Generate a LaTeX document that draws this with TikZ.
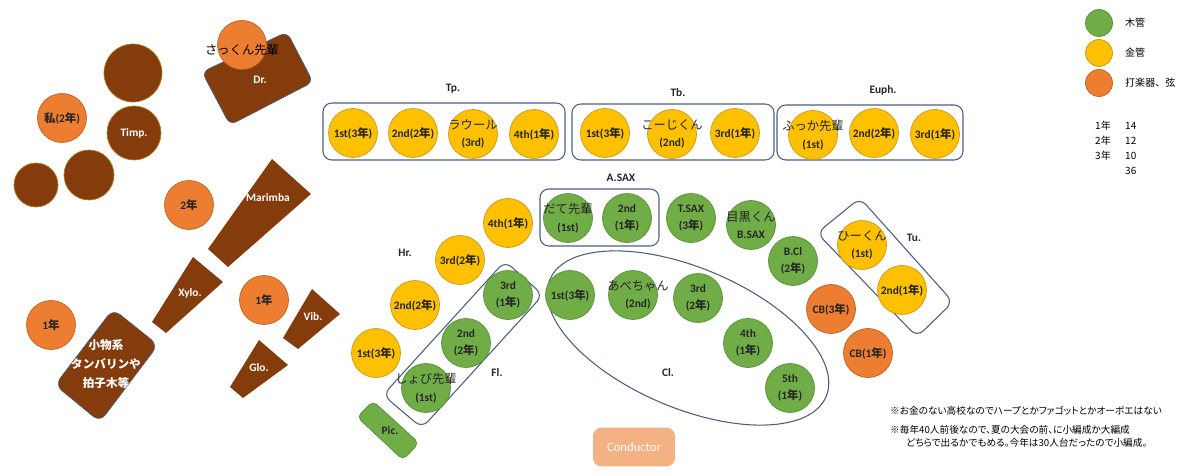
\documentclass[tikz,border=0pt]{standalone}
\usepackage{fontspec}
\setmainfont{Carlito}
\newfontfamily\jp{Noto Sans CJK JP}
\newfontfamily\jpnote{Noto Sans CJK JP}[RawFeature=+palt]
\newcommand\J[1]{{\jp #1}}
\newcommand\who[1]{{\mdseries\fontsize{7}{10}\selectfont\jp #1}}
\definecolor{wwgreen}{HTML}{70AD47}
\definecolor{wwedge}{HTML}{5A8E38}
\definecolor{bryellow}{HTML}{FFC000}
\definecolor{bredge}{HTML}{C99A1A}
\definecolor{pcorange}{HTML}{ED7D31}
\definecolor{pcedge}{HTML}{B9612A}
\definecolor{instbrown}{HTML}{843C0C}
\definecolor{drumedge}{HTML}{B07A20}
\definecolor{partline}{HTML}{4A5D7E}
\definecolor{condcol}{HTML}{F4B183}
\begin{document}
\begin{tikzpicture}[x=0.02cm,y=-0.02cm,
  seat/.style={circle,minimum size=0.98cm,inner sep=0pt,align=center,text=black!85,
    font=\fontsize{6.5}{10}\selectfont\bfseries},
  ww/.style={seat,fill=wwgreen,draw=wwedge},
  br/.style={seat,fill=bryellow,draw=bredge},
  pc/.style={seat,fill=pcorange,draw=pcedge},
  seattext/.style={inner sep=0pt,align=center,text=black!85,font=\fontsize{6.5}{10}\selectfont\bfseries},
  drum/.style={circle,inner sep=0pt,fill=instbrown,draw=drumedge,text=white,
    font=\fontsize{6.5}{8}\selectfont\bfseries},
  inst/.style={fill=instbrown},
  instlab/.style={text=white,font=\fontsize{6.5}{8}\selectfont\bfseries,align=center},
  part/.style={draw=partline,line width=0.6pt,rounded corners=5pt},
  head/.style={text=black!85,font=\fontsize{6.5}{8}\selectfont\bfseries},
  key/.style={font=\fontsize{5.7}{7}\selectfont\jp},
  note/.style={anchor=west,font=\fontsize{5.5}{7}\selectfont\jpnote}]
\useasboundingbox (0,0) rectangle (1200,476);

\draw[inst,draw=partline,rounded corners=4pt] (202,72) -- (287,32) -- (313,82) -- (230,125) -- cycle;
\node[instlab] (dr) at (260,80) {Dr.};
\node[pc] (sakkun) at (242,45) {};
\node[font=\fontsize{7}{8}\selectfont\jp] at (242,50) {さっくん先輩};

\node[drum,minimum size=1.16cm] (timpa) at (133,73) {};
\node[drum,minimum size=1.08cm] (timpb) at (134,133) {Timp.};
\node[drum,minimum size=1.0cm] (timpc) at (89,175) {};
\node[drum,minimum size=0.88cm] (timpd) at (36,185) {};
\node[pc] (watashi) at (62,118) {\J{私}(2\J{年})};
\node[pc] (perca) at (189,205) {2\J{年}};

\fill[inst] (272,159) -- (311,194) -- (228,267) -- (208,249) -- cycle;
\node[instlab] (marimba) at (268,198) {Marimba};
\fill[inst] (193,257) -- (223,282) -- (166,333) -- (152,322) -- cycle;
\node[instlab] (xylo) at (190,293) {Xylo.};
\fill[inst] (312,289) -- (340,314) -- (298,349) -- (283,338) -- cycle;
\node[instlab] (vib) at (313,317) {Vib.};
\fill[inst] (259,340) -- (288,365) -- (243,398) -- (230,387) -- cycle;
\node[instlab] (glo) at (259,368) {Glo.};
\node[pc] (percb) at (264,300) {1\J{年}};
\node[pc] (percc) at (51,325) {1\J{年}};
\draw[inst,draw=partline,rounded corners=5pt] (113,309) -- (158,345) -- (100,422) -- (55,385) -- cycle;
\node[instlab,font=\fontsize{6.6}{11}\selectfont\bfseries\jp] (komono) at (106,364) {小物系\\タンバリンや\\拍子木等};

\draw[part] (323,103) rectangle (565,160);
\node[head] (tp) at (453,89) {Tp.};
\node[br] (tpa) at (353,133) {1st(3\J{年})};
\node[br] (tpb) at (413,133) {2nd(2\J{年})};
\node[br] (tpc) at (473,134) {};
\node[seattext] at (tpc) {\who{ラウール}\\(3rd)};
\node[br] (tpd) at (534,134) {4th(1\J{年})};

\draw[part] (572,104) rectangle (774,160);
\node[head] (tb) at (678,93) {Tb.};
\node[br] (tba) at (605,133) {1st(3\J{年})};
\node[br] (tbb) at (672,134) {};
\node[seattext] at (tbb) {\who{こーじくん}\\(2nd)};
\node[br] (tbc) at (735,133) {3rd(1\J{年})};

\draw[part] (777,105) rectangle (963,160);
\node[head] (euph) at (883,90) {Euph.};
\node[br] (eua) at (813,135) {};
\node[seattext] at (eua) {\who{ふっか先輩}\\(1st)};
\node[br] (eub) at (874,133) {2nd(2\J{年})};
\node[br] (euc) at (935,134) {3rd(1\J{年})};

\node[head] (hr) at (405,253) {Hr.};
\node[br] (hra) at (376,353) {1st(3\J{年})};
\node[br] (hrb) at (415,305) {2nd(2\J{年})};
\node[br] (hrc) at (460,260) {3rd(2\J{年})};
\node[br] (hrd) at (508,223) {4th(1\J{年})};

\draw[part] (540,189) rectangle (659,246);
\node[head] (asax) at (621,178) {A.SAX};
\node[ww] (asa) at (568,218) {};
\node[seattext] at (asa) {\who{だて先輩}\\(1st)};
\node[ww] (asb) at (627,218) {2nd\\(1\J{年})};
\node[ww] (tsax) at (691,218) {T.SAX\\(3\J{年})};
\node[ww] (bsax) at (751,225) {};
\node[seattext] at (bsax) {\who{目黒くん}\\B.SAX};
\node[ww] (bcl) at (793,261) {B.Cl\\(2\J{年})};

\draw[part] (860,198) -- (953,302) -- (917,337) -- (817,233) -- cycle;
\node[head] (tu) at (914,238) {Tu.};
\node[br] (tua) at (862,245) {};
\node[seattext] at (tua) {\who{ひーくん}\\(1st)};
\node[br] (tub) at (902,290) {2nd(1\J{年})};
\node[pc] (cba) at (831,309) {CB(3\J{年})};
\node[pc] (cbb) at (868,353) {CB(1\J{年})};

\draw[draw=partline,line width=0.6pt,rotate around={-23:(688,338)}] (688,338) ellipse (150 and 70);
\node[head] (cl) at (668,373) {Cl.};
\node[ww] (cla) at (570,295) {1st(3\J{年})};
\node[ww] (clb) at (633,295) {};
\node[seattext] at ([xshift=0.1cm]clb) {\who{あべちゃん}\\(2nd)};
\node[ww] (clc) at (698,298) {3rd\\(2\J{年})};
\node[ww] (cld) at (748,343) {4th\\(1\J{年})};
\node[ww] (cle) at (790,388) {5th\\(1\J{年})};

\draw[part] (505,261) -- (543,295) -- (422,428) -- (383,395) -- cycle;
\node[head] (fl) at (497,373) {Fl.};
\node[ww] (fla) at (508,295) {3rd\\(1\J{年})};
\node[ww] (flb) at (466,343) {2nd\\(2\J{年})};
\node[ww] (flc) at (426,388) {};
\node[seattext] at (flc) {\who{しょび先輩}\\(1st)};
\draw[fill=wwgreen,draw=wwedge,rounded corners=3pt] (373,401) -- (419,443) -- (403,460) -- (357,417) -- cycle;
\node[head] (pic) at (390,431) {Pic.};

\node[fill=condcol,rounded corners=5pt,minimum width=1.64cm,minimum height=0.78cm,
  text=white,font=\fontsize{7.2}{8}\selectfont] (cond) at (634,447) {Conductor};

\node[ww,minimum size=0.54cm] (keyw) at (1099,23) {};
\node[br,minimum size=0.54cm] (keyb) at (1099,53) {};
\node[pc,minimum size=0.54cm] (keyp) at (1099,83) {};
\node[key,anchor=west] at (1119,23) {木管};
\node[key,anchor=west] at (1119,53) {金管};
\node[key,anchor=west] at (1119,83) {打楽器、弦};
\node[key,anchor=east] at (1117,126) {1年};
\node[key,anchor=west] at (1119,126) {14};
\node[key,anchor=east] at (1117,141) {2年};
\node[key,anchor=west] at (1119,141) {12};
\node[key,anchor=east] at (1117,156) {3年};
\node[key,anchor=west] at (1119,156) {10};
\node[key,anchor=west] at (1119,171) {36};

\node[note] (notea) at (884,411) {※お金のない高校なのでハープとかファゴットとかオーボエはない};
\node[note] (noteb) at (884,430) {※毎年40人前後なので、夏の大会の前、に小編成か大編成};
\node[note] (notec) at (900,443) {どちらで出るかでもめる。今年は30人台だったので小編成。};
\end{tikzpicture}
\end{document}
